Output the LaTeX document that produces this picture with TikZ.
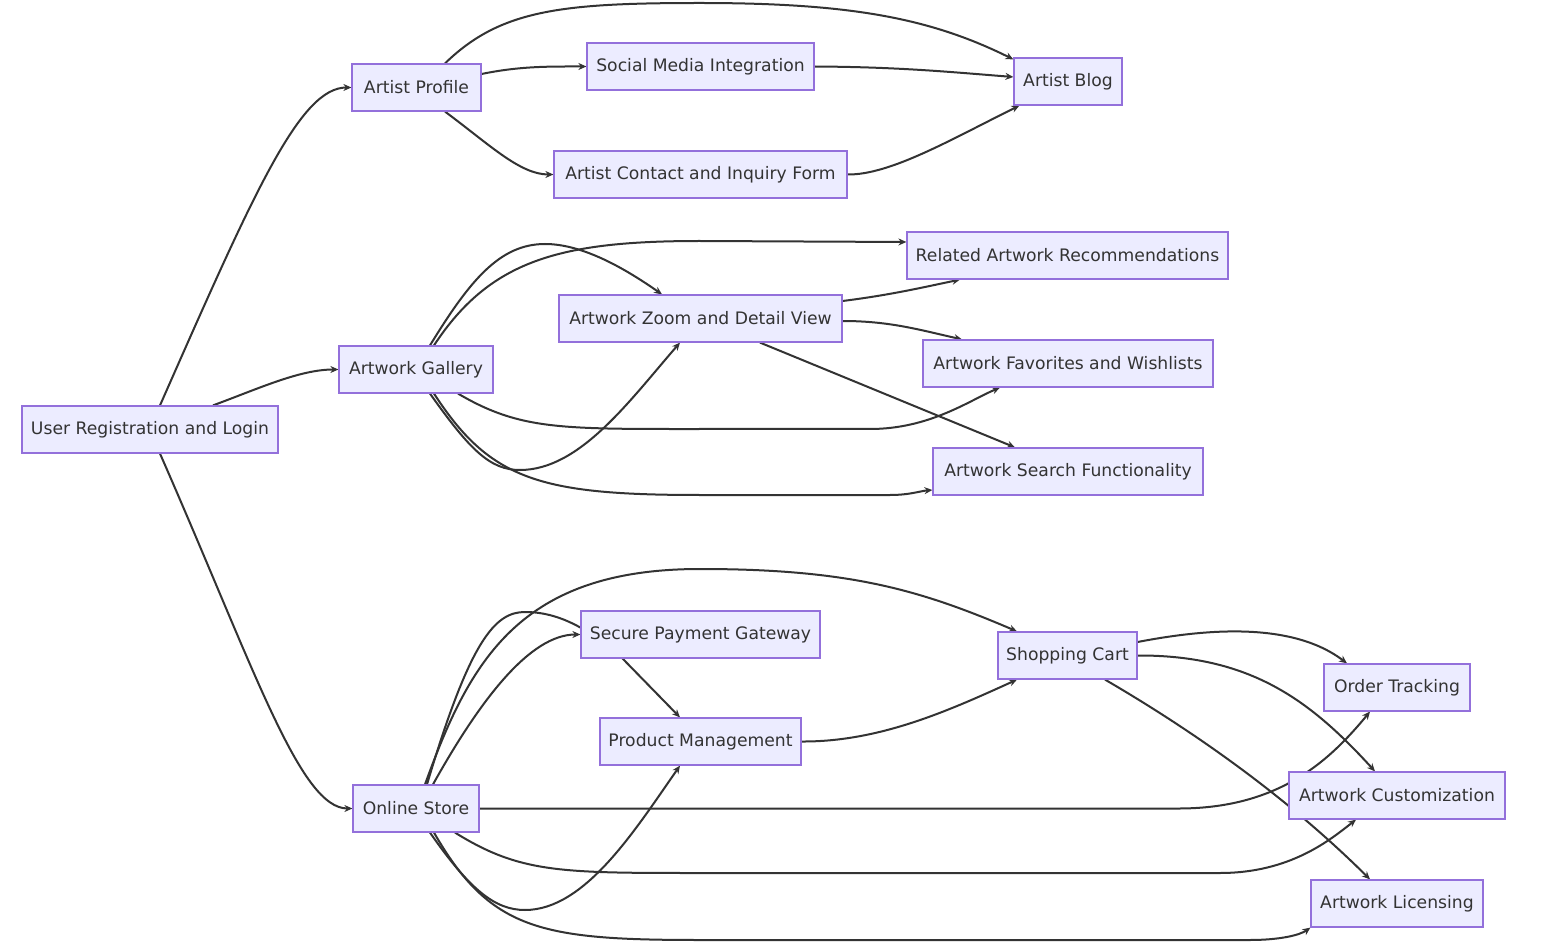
\documentclass[tikz,border=0pt]{standalone}
\usepackage{fontspec}
\setmainfont{DejaVu Sans}
\usetikzlibrary{arrows.meta, backgrounds}
\definecolor{boxfill}{HTML}{ECECFF}
\definecolor{boxline}{HTML}{9370DB}
\definecolor{ink}{HTML}{333333}
\tikzset{
    box/.style={rectangle, draw=boxline, fill=boxfill, line width=1.2pt, minimum height=47pt, inner sep=0pt, align=center, text=ink, font=\fontsize{17.2}{20}\selectfont},
    arrow/.style={draw=ink, line width=2pt, ->, >={Stealth[length=8pt, width=7pt]}}
}

\begin{document}
\begin{tikzpicture}[x=1pt, y=-1pt]
    \useasboundingbox (0,0) rectangle (1553,949);

    % left column
    \node (user) [box, minimum width=256pt] at (150,429.5) {User Registration and Login};
    \node (profile) [box, minimum width=129pt] at (416.5,87.5) {Artist Profile};
    \node (gallery) [box, minimum width=154pt] at (416,369.5) {Artwork Gallery};
    \node (store) [box, minimum width=126pt] at (416,808.5) {Online Store};

    % middle column
    \node (social) [box, minimum width=227pt] at (700.5,66.5) {Social Media Integration};
    \node (contact) [box, minimum width=293pt] at (700.5,174.5) {Artist Contact and Inquiry Form};
    \node (zoom) [box, minimum width=283pt] at (700.5,318.5) {Artwork Zoom and Detail View};
    \node (payment) [box, minimum width=239pt] at (700.5,634.5) {Secure Payment Gateway};
    \node (products) [box, minimum width=201pt] at (700.5,741.5) {Product Management};

    % right column
    \node (blog) [box, minimum width=108pt] at (1068,81.5) {Artist Blog};
    \node (related) [box, minimum width=321pt] at (1067.5,255.5) {Related Artwork Recommendations};
    \node (favs) [box, minimum width=290pt] at (1068,363.5) {Artwork Favorites and Wishlists};
    \node (search) [box, minimum width=270pt] at (1068,471.5) {Artwork Search Functionality};
    \node (cart) [box, minimum width=139pt] at (1067.5,655.5) {Shopping Cart};

    % far right
    \node (tracking) [box, minimum width=146pt] at (1397,687.5) {Order Tracking};
    \node (custom) [box, minimum width=216pt] at (1397,795.5) {Artwork Customization};
    \node (licensing) [box, minimum width=172pt] at (1397,903.5) {Artwork Licensing};

    \begin{pgfonlayer}{background}
    \fill [white] (0,0) rectangle (1553,949);

    \draw [arrow] ([xshift=10pt]user.north) .. controls (255,190) and (300,87.5) .. (profile.west);
    \draw [arrow] ([xshift=63pt]user.north) .. controls (260,388) and (300,369.5) .. (gallery.west);
    \draw [arrow] ([xshift=10pt]user.south) .. controls (255,670) and (300,808.5) .. (store.west);

    % artist profile branch
    \draw [arrow] ([xshift=28.5pt]profile.north) .. controls (500,10) and (560,3) .. (700,3) .. controls (850,3) and (930,18) .. ([yshift=-2pt]blog.north west);
    \draw [arrow] ([yshift=13.5pt]profile.east) .. controls (520,66) and (550,66.5) .. (social.west);
    \draw [arrow] ([xshift=28.5pt]profile.south) .. controls (490,145) and (520,174.5) .. (contact.west);
    \draw [arrow] (social.east) .. controls (900,67) and (950,72) .. ([yshift=4.5pt]blog.west);
    \draw [arrow] (contact.east) .. controls (890,175) and (950,140) .. ([xshift=6pt]blog.south west);

    % gallery branch
    \draw [arrow] ([xshift=14pt]gallery.north) .. controls (470,280) and (500,244) .. (545,244) .. controls (580,244) and (620,265) .. ([xshift=-38.5pt]zoom.north);
    \draw [arrow] ([xshift=18pt]gallery.north) .. controls (490,260) and (560,241) .. (700,241) -- ([yshift=13.5pt]related.west);
    \draw [arrow] ([xshift=14pt]gallery.south) .. controls (470,450) and (490,470) .. (520,470) .. controls (580,470) and (630,400) .. ([xshift=-20.5pt]zoom.south);
    \draw [arrow] ([xshift=42pt]gallery.south) .. controls (520,430) and (560,429) .. (700,429) -- (870,429) .. controls (930,429) and (970,400) .. ([xshift=-68pt]favs.south);
    \draw [arrow] ([xshift=18pt]gallery.south) .. controls (490,480) and (540,495) .. (700,495) -- (890,495) .. controls (910,495) and (920,491) .. ([yshift=-18.5pt]search.west);
    \draw [arrow] ([yshift=17.5pt]zoom.east) .. controls (890,295) and (920,288) .. ([xshift=-107.5pt]related.south);
    \draw [arrow] ([yshift=-2.5pt]zoom.east) .. controls (890,321) and (920,330) .. ([xshift=-106pt]favs.north);
    \draw [arrow] ([xshift=59.5pt]zoom.south) -- ([xshift=-53pt]search.north);

    % store branch
    \draw [arrow] ([xshift=9pt]store.north) .. controls (470,660) and (520,569) .. (700,569) .. controls (850,569) and (920,590) .. ([xshift=-50.5pt]cart.north);
    \draw [arrow] ([xshift=11pt]store.north) .. controls (470,640) and (495,612) .. (525,612) .. controls (560,612) and (590,630) .. (622,658) -- ([xshift=-20.5pt]products.north);
    \draw [arrow] ([xshift=17pt]store.north) .. controls (480,700) and (530,634.5) .. (payment.west);
    \draw [arrow] ([xshift=14pt]store.south) .. controls (470,890) and (495,910) .. (525,910) .. controls (585,910) and (635,830) .. ([xshift=-20.5pt]products.south);
    \draw [arrow] (store.east) -- (1180,808.5) .. controls (1280,808) and (1330,760) .. ([xshift=-27pt]tracking.south);
    \draw [arrow] ([xshift=39pt]store.south) .. controls (520,873) and (560,873) .. (700,873) -- (1220,873) .. controls (1290,873) and (1330,840) .. ([xshift=-41pt]custom.south);
    \draw [arrow] ([xshift=18pt]store.south) .. controls (490,930) and (540,940) .. (700,940) -- (1250,940) .. controls (1280,940) and (1300,935) .. (licensing.south west);
    \draw [arrow] (products.east) .. controls (880,742) and (950,710) .. ([xshift=-50.5pt]cart.south);

    % cart branch
    \draw [arrow] ([yshift=13.5pt]cart.east) .. controls (1200,630) and (1290,620) .. ([xshift=-50pt]tracking.north);
    \draw [arrow] (cart.east) .. controls (1250,655) and (1310,700) .. ([xshift=-22pt]custom.north);
    \draw [arrow] ([xshift=37.5pt]cart.south) .. controls (1200,735) and (1290,800) .. ([xshift=-27pt]licensing.north);
    \end{pgfonlayer}
\end{tikzpicture}
\end{document}
